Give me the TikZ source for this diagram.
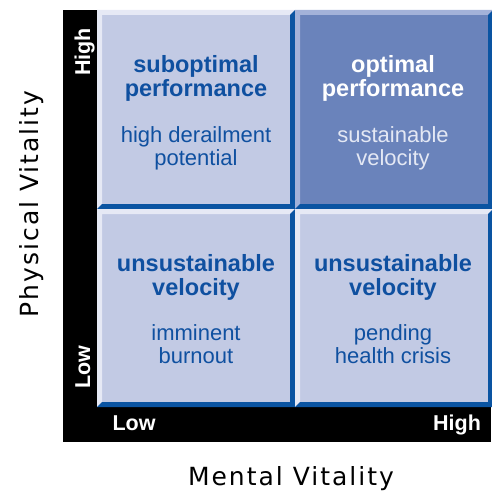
\documentclass[tikz,border=0pt]{standalone}
\usepackage{fontspec}
\setmainfont{Liberation Sans}
\newfontfamily\axisfont[LetterSpace=8]{DejaVu Sans}

\definecolor{qface}{HTML}{C2CAE4}
\definecolor{qlight}{HTML}{E6E9F5}
\definecolor{qdark}{HTML}{0A54A2}
\definecolor{hiface}{HTML}{6A83BB}
\definecolor{hilight}{HTML}{A3B2D9}
\definecolor{qtext}{HTML}{0F50A0}
\definecolor{hitext}{HTML}{E4E8F4}

% bevelled box: x1 y1 x2 y2 face light
\newcommand{\bevelbox}[6]{%
  \fill[#5] (#1,#2) rectangle (#3,#4);
  \fill[#6] (#1,#2) -- (#3,#2) -- (#3-5,#2+5) -- (#1+5,#2+5) -- (#1+5,#4-5) -- (#1,#4) -- cycle;
  \fill[qdark] (#3,#2) -- (#3,#4) -- (#1,#4) -- (#1+5,#4-5) -- (#3-5,#4-5) -- (#3-5,#2+5) -- cycle;
}

\tikzset{
  ttl/.style={anchor=base, inner sep=0pt, text=qtext, font=\fontsize{23.5}{25}\selectfont\bfseries},
  note/.style={anchor=base, inner sep=0pt, text=qtext, font=\fontsize{22}{24}\selectfont},
  lvl/.style={anchor=base, inner sep=0pt, text=white, font=\fontsize{21.5}{24}\selectfont\bfseries},
  axlabel/.style={anchor=base, inner sep=0pt, font=\axisfont\fontsize{25}{28}\selectfont},
}

\begin{document}
\begin{tikzpicture}[x=1pt, y=-1pt]
\useasboundingbox (0,0) rectangle (491,492);
\fill[black] (63,10) rectangle (97,442);
\fill[black] (63,407) rectangle (491,442);
\bevelbox{97}{10}{295}{209}{qface}{qlight}
\bevelbox{295}{10}{493}{209}{hiface}{hilight}
\bevelbox{97}{209}{295}{407}{qface}{qlight}
\bevelbox{295}{209}{493}{407}{qface}{qlight}

\node[ttl] (tl1) at (196,73) {suboptimal};
\node[ttl] (tl2) at (196,96.5) {performance};
\node[note] (tl3) at (196,142) {high derailment};
\node[note] (tl4) at (196,165) {potential};

\node[ttl, text=white] (tr1) at (393,73) {optimal};
\node[ttl, text=white] (tr2) at (393,96.5) {performance};
\node[note, text=hitext] (tr3) at (393,142) {sustainable};
\node[note, text=hitext] (tr4) at (393,165) {velocity};

\node[ttl] (bl1) at (196,271.5) {unsustainable};
\node[ttl] (bl2) at (196,295) {velocity};
\node[note] (bl3) at (196,340.5) {imminent};
\node[note] (bl4) at (196,363.5) {burnout};

\node[ttl] (br1) at (393,271.5) {unsustainable};
\node[ttl] (br2) at (393,295) {velocity};
\node[note] (br3) at (393,340.5) {pending};
\node[note] (br4) at (393,363.5) {health crisis};

\node[lvl, rotate=90] (yhi) at (90,52) {High};
\node[lvl, rotate=90] (ylo) at (90,367) {Low};
\node[lvl] (xlo) at (134,430) {Low};
\node[lvl] (xhi) at (457,430) {High};

\node[axlabel, rotate=90] (ytitle) at (38,204) {Physical Vitality};
\node[axlabel] (xtitle) at (291,485) {Mental Vitality};
\end{tikzpicture}
\end{document}
